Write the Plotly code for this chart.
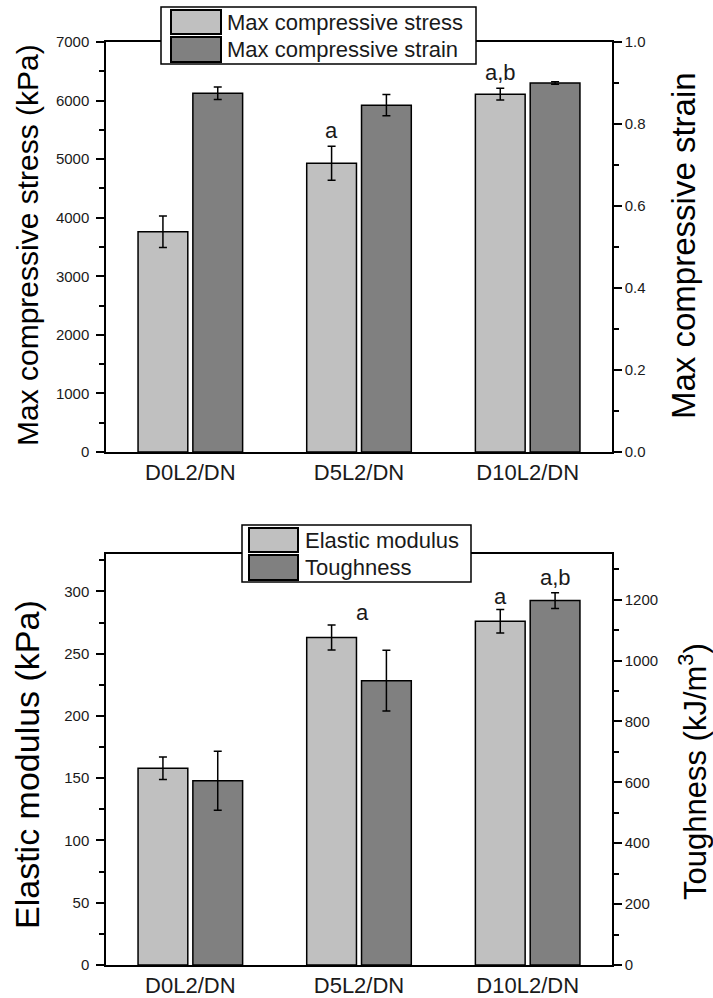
import plotly.graph_objects as go

# ---------------- data ----------------
categories = ["D0L2/DN", "D5L2/DN", "D10L2/DN"]
stress = [3760, 4930, 6110]
stress_err = [270, 290, 100]
strain = [0.875, 0.846, 0.900]
strain_err = [0.015, 0.026, 0.003]
modulus = [158, 263, 276]
modulus_err = [9, 10, 9.5]
toughness = [605, 934, 1197]
toughness_err = [97, 100, 26]
top_labels = ["", "a", "a,b"]
mod_labels = ["", "a", "a"]
tough_labels = ["", "", "a,b"]

W, H = 713, 998
LIGHT = "#c0c0c0"
DARK = "#808080"
TXT = "#1a1a1a"
FONT = "Arial, Liberation Sans, sans-serif"

def px(x):
    return x / W

def py(y):
    return 1 - y / H

xpos = list(range(len(categories)))
BW = 0.295
OFF_L = -0.31
OFF_D = 0.015

fig = go.Figure()

def bar(y, err, color, xa, ya, name):
    return go.Bar(
        x=xpos, y=y, name=name, xaxis=xa, yaxis=ya,
        width=BW, offset=OFF_L if color == LIGHT else OFF_D,
        marker=dict(color=color, line=dict(color="black", width=1.5)),
        error_y=dict(type="data", array=err, color="black", thickness=1.5, width=4),
        showlegend=False, hoverinfo="skip",
    )

fig.add_trace(bar(stress, stress_err, LIGHT, "x", "y", "Max compressive stress"))
fig.add_trace(bar(strain, strain_err, DARK, "x", "y2", "Max compressive strain"))
fig.add_trace(bar(modulus, modulus_err, LIGHT, "x2", "y3", "Elastic modulus"))
fig.add_trace(bar(toughness, toughness_err, DARK, "x2", "y4", "Toughness"))

xdom = [px(106), px(612)]
dom_top = [py(452), py(42)]
dom_bot = [py(965), py(554)]

xcommon = dict(
    range=[-0.5, 2.5], tickmode="array", tickvals=xpos, ticktext=categories,
    showline=True, linecolor="black", linewidth=1.5, mirror=True, ticks="",
    showgrid=False, zeroline=False, domain=xdom, automargin=False,
    tickfont=dict(family=FONT, size=22, color=TXT),
)

def ycommon(rng, dtick, minor, side, fmt=None, standoff=0):
    d = dict(
        range=rng, dtick=dtick, tick0=0, showline=True, linecolor="black", linewidth=1.5,
        ticks="outside", ticklen=8, tickwidth=1.5, tickcolor="black",
        minor=dict(ticks="outside", ticklen=5, tickwidth=1.5, tickcolor="black", dtick=minor, tick0=0),
        showgrid=False, zeroline=False, side=side, automargin=False,
        ticklabelstandoff=standoff,
        tickfont=dict(family=FONT, size=15, color=TXT),
    )
    if fmt:
        d["tickformat"] = fmt
    return d

fig.update_layout(
    width=W, height=H, margin=dict(l=0, r=0, t=0, b=0, pad=0, autoexpand=False),
    paper_bgcolor="white", plot_bgcolor="white",
    showlegend=False,
    xaxis=dict(**xcommon, anchor="y"),
    xaxis2=dict(**xcommon, anchor="y3"),
    yaxis=dict(**ycommon([0, 7000], 1000, 500, "left", standoff=4), domain=dom_top, anchor="x"),
    yaxis2=dict(**ycommon([0, 1.0], 0.2, 0.1, "right", ".1f"), overlaying="y", anchor="x"),
    yaxis3=dict(**ycommon([0, 330], 50, 25, "left", standoff=4), domain=dom_bot, anchor="x2"),
    yaxis4=dict(**ycommon([0, 1350], 200, 100, "right"), overlaying="y3", anchor="x2"),
)

ann = []
# significance letters
for i, t in enumerate(top_labels):
    if t:
        ann.append(dict(x=i + OFF_L + BW / 2, y=stress[i] + stress_err[i], xref="x", yref="y",
                        text=t, showarrow=False, yanchor="bottom", yshift=1,
                        font=dict(family=FONT, size=22, color=TXT)))
for i, t in enumerate(mod_labels):
    if t:
        dx = 0.02 if i == 1 else OFF_L + BW / 2
        ann.append(dict(x=i + dx, y=modulus[i] + modulus_err[i], xref="x2", yref="y3",
                        text=t, showarrow=False, yanchor="bottom", yshift=-2,
                        font=dict(family=FONT, size=22, color=TXT)))
for i, t in enumerate(tough_labels):
    if t:
        ann.append(dict(x=i + OFF_D + BW / 2, y=toughness[i] + toughness_err[i], xref="x2", yref="y4",
                        text=t, showarrow=False, yanchor="bottom", yshift=1,
                        font=dict(family=FONT, size=22, color=TXT)))

# axis titles
def vtitle(text, x, y, size):
    return dict(x=px(x), y=py(y), xref="paper", yref="paper", text=text, textangle=-90,
                showarrow=False, xanchor="center", yanchor="middle",
                font=dict(family=FONT, size=size, color="black"))

ann.append(vtitle("Max compressive stress (kPa)", 28, 245, 30))
ann.append(vtitle("Max compressive strain", 683, 246, 33))
ann.append(vtitle("Elastic modulus (kPa)", 27, 765, 34))
ann.append(vtitle("Toughness (kJ/m<sup>3</sup>)", 693, 772, 31))

shapes = []

def legend(x0, y0, x1, y1, sw_x0, sw_x1, rows, tx):
    shapes.append(dict(type="rect", xref="paper", yref="paper", x0=px(x0), x1=px(x1), y0=py(y1), y1=py(y0),
                       fillcolor="white", line=dict(color="black", width=1.5), layer="above"))
    for (ya, yb, col, label) in rows:
        shapes.append(dict(type="rect", xref="paper", yref="paper", x0=px(sw_x0), x1=px(sw_x1),
                           y0=py(yb), y1=py(ya), fillcolor=col, line=dict(color="black", width=2), layer="above"))
        ann.append(dict(x=px(tx), y=py((ya + yb) / 2), xref="paper", yref="paper", text=label,
                        showarrow=False, xanchor="left", yanchor="middle",
                        font=dict(family=FONT, size=22, color=TXT)))

legend(161, 7, 476, 64, 171, 221,
       [(10, 34, LIGHT, "Max compressive stress"), (37, 62, DARK, "Max compressive strain")], 225)
legend(242, 525, 471, 582, 249, 298,
       [(528, 552, LIGHT, "Elastic modulus"), (555, 580, DARK, "Toughness")], 303)

fig.update_layout(annotations=ann, shapes=shapes)

fig.write_html("out.html", config={"displayModeBar": False},
               post_script="document.body.style.margin='0';document.body.style.padding='0';")
